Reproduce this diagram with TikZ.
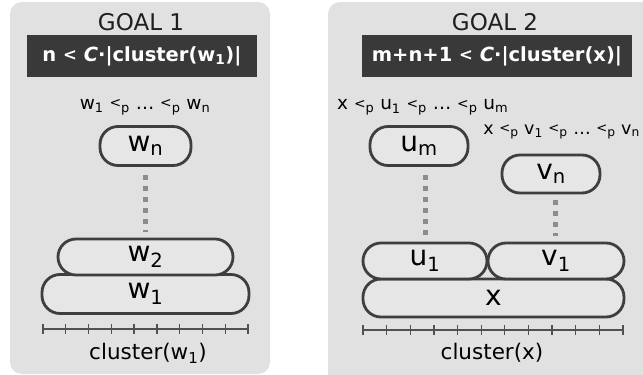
\documentclass[tikz,border=0pt]{standalone}
\usepackage{fontspec}
\usetikzlibrary{calc}
\setmainfont{DejaVu Sans}
\newcommand\lo[1]{\textsubscript{#1}}
\newcommand\lp{\raisebox{0.15ex}{\scalebox{0.75}{<}}\lo{p}}
\newcommand\lt{\raisebox{0.1ex}{\scalebox{0.85}{<}}}
\definecolor{panelgray}{HTML}{E1E1E1}
\definecolor{pillfill}{HTML}{E6E6E6}
\definecolor{inkgray}{HTML}{3E3E3E}
\definecolor{boxdark}{HTML}{393939}
\definecolor{dotgray}{HTML}{8C8C8C}
\tikzset{
  panel/.style={fill=panelgray, draw=none, rounded corners=12pt},
  goalhead/.style={font=\fontsize{23}{25}\selectfont, text=black!88},
  condbox/.style={fill=boxdark, text=white, font=\fontsize{19.5}{22}\bfseries\selectfont,
    minimum height=42pt, inner sep=0pt},
  orderlbl/.style={font=\fontsize{18.5}{20}\selectfont, inner sep=0pt},
  pill/.style={draw=inkgray, line width=2.8pt, fill=pillfill, rounded corners=18pt,
    inner sep=0pt, font=\fontsize{28}{30}\selectfont},
  dotline/.style={draw=dotgray, line width=5pt, dash pattern=on 5pt off 6pt},
  ruler/.style={draw=inkgray!90, line width=1.3pt},
  axislbl/.style={font=\fontsize{21.5}{24}\selectfont, inner sep=0pt},
}
\begin{document}
\begin{tikzpicture}[x=1pt,y=-1pt]
\useasboundingbox (0,0) rectangle (643,375);
\clip (0,0) rectangle (643,375);

% ---------- left panel ----------
\draw[panel] (10,2) rectangle (270,374);
\node[goalhead] (g1) at (141,22) {GOAL 1};
\node[condbox, minimum width=230pt] (c1) at (142,56) {n \lt{} \textit{C}·|cluster(w\lo{1})|};
\node[orderlbl] (o1) at (145,107) {w\lo{1} \lp{} … \lp{} w\lo{n}};
\node[pill, minimum width=91pt, minimum height=39pt] (wn) at (145.5,146) {w\lo{n}};
\node[pill, minimum width=207pt, minimum height=39pt] (w1) at (145.5,294) {w\lo{1}};
\node[pill, minimum width=175pt, minimum height=36pt] (w2) at (145.5,257) {w\lo{2}};
\draw[dotline] ([yshift=-8pt]wn.south) -- ([yshift=6pt]w2.north);
% ruler
\coordinate (r1a) at (43,329);
\coordinate (r1b) at (248,329);
\draw[ruler] (r1a) -- (r1b);
\foreach \i in {0,...,9}
  \draw[ruler] ($(r1a)!\i/9!(r1b)+(0,-5)$) -- ++(0,10);
\node[axislbl] (ax1) at (148,353) {cluster(w\lo{1})};

% ---------- right panel ----------
\draw[panel] (328,2) rectangle (660,390);
\node[goalhead] (g2) at (495,22) {GOAL 2};
\node[condbox, minimum width=270pt] (c2) at (497,56) {m+n+1 \lt{} \textit{C}·|cluster(x)|};
\node[orderlbl, anchor=west] (o2) at (337,107) {x \lp{} u\lo{1} \lp{} … \lp{} u\lo{m}};
\node[orderlbl, anchor=east, font=\fontsize{17.5}{19}\selectfont] (o3) at (640,132) {x \lp{} v\lo{1} \lp{} … \lp{} v\lo{n}};
\node[pill, minimum width=98pt, minimum height=39pt] (um) at (419,146) {u\lo{m}};
\node[pill, minimum width=98pt, minimum height=38pt] (vn) at (551,174) {v\lo{n}};
\node[pill, minimum width=261pt, minimum height=38pt] (x) at (493.5,298) {x};
\node[pill, minimum width=124pt, minimum height=36pt] (u1) at (425,261) {u\lo{1}};
\node[pill, minimum width=136pt, minimum height=36pt] (v1) at (556,261) {v\lo{1}};
\draw[dotline] ([xshift=6pt,yshift=-8pt]um.south) -- ([xshift=0pt,yshift=6pt]u1.north);
\draw[dotline] ([xshift=4pt,yshift=-6pt]vn.south) -- ([xshift=-1pt,yshift=6pt]v1.north);
% ruler
\coordinate (r2a) at (363,330);
\coordinate (r2b) at (623,330);
\draw[ruler] (r2a) -- (r2b);
\foreach \i in {0,...,11}
  \draw[ruler] ($(r2a)!\i/11!(r2b)+(0,-5)$) -- ++(0,10);
\node[axislbl] (ax2) at (492,353) {cluster(x)};
\end{tikzpicture}
\end{document}
